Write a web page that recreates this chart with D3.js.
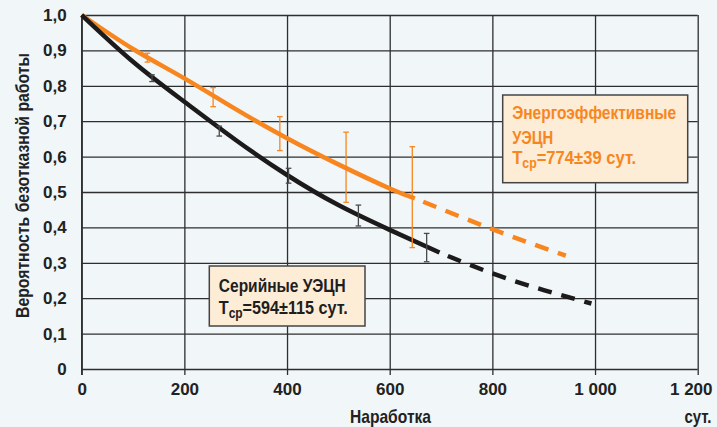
<!DOCTYPE html>
<html>
<head>
<meta charset="utf-8">
<script src="https://cdn.jsdelivr.net/npm/d3@7"></script>
<style>
  body { margin: 0; background: #f1f6f9; }
  svg text { font-family: "Liberation Sans", Arial, sans-serif; font-weight: bold; }
</style>
</head>
<body>
<div class="display"></div>
<script>
// tick labels
const xTicks = [0, 200, 400, 600, 800, 1000, 1200];
const xTickLabels = ['0', '200', '400', '600', '800', '1 000', '1 200'];
const yTicks = [0, 0.1, 0.2, 0.3, 0.4, 0.5, 0.6, 0.7, 0.8, 0.9, 1.0];
const yTickLabels = ['0', '0,1', '0,2', '0,3', '0,4', '0,5', '0,6', '0,7', '0,8', '0,9', '1,0'];

// serial pumps (black)
const serialX = [0, 100, 200, 300, 400, 500, 600, 697];
const serialY = [1.0, 0.868, 0.755, 0.647, 0.548, 0.463, 0.393, 0.329];
const serialDashX = [697, 800, 900, 993];
const serialDashY = [0.329, 0.270, 0.223, 0.185];
const serialErrX = [137, 268, 403, 539, 672];
const serialErrLow = [0.812, 0.658, 0.525, 0.404, 0.303];
const serialErrHigh = [0.831, 0.686, 0.567, 0.463, 0.383];

// energy-efficient pumps (orange)
const effX = [0, 100, 200, 300, 400, 500, 600, 649];
const effY = [1.0, 0.904, 0.821, 0.734, 0.652, 0.578, 0.510, 0.482];
const effDashX = [649, 800, 943];
const effDashY = [0.482, 0.395, 0.32];
const effErrX = [128, 256, 386, 515, 644];
const effErrLow = [0.867, 0.741, 0.617, 0.471, 0.343];
const effErrHigh = [0.892, 0.795, 0.713, 0.669, 0.628];

const width = 717;
const height = 427;
const padLeft = 81.7, padRight = 697.7, padTop = 15, padBottom = 369;
const orange = '#f7861f';
const black = '#1c1a1a';
const gridColor = '#2e2e2e';
const textColor = '#222';

const svg = d3.select('.display')
  .append('svg')
  .attr('width', width)
  .attr('height', height)
  .style('display', 'block');

svg.append('rect')
  .attr('width', width)
  .attr('height', height)
  .attr('fill', '#f1f6f9');

const xScale = d3.scaleLinear().domain([0, 1200]).range([padLeft, padRight]);
const yScale = d3.scaleLinear().domain([0, 1]).range([padBottom, padTop]);

// vertical grid
const xGrid = svg.append('g')
  .attr('transform', `translate(0, ${padTop})`)
  .call(d3.axisBottom(xScale).tickValues(xTicks).tickSize(padBottom - padTop).tickFormat(''));
xGrid.select('.domain').remove();
xGrid.selectAll('line').attr('stroke', gridColor).attr('stroke-width', 1.3);

// y axis with horizontal grid
const yAxis = svg.append('g')
  .attr('transform', `translate(${padLeft}, 0)`)
  .call(d3.axisLeft(yScale)
    .tickValues(yTicks)
    .tickSize(-(padRight - padLeft))
    .tickPadding(15)
    .tickFormat((d, i) => yTickLabels[i]));
yAxis.select('.domain').attr('stroke', gridColor).attr('stroke-width', 1.3)
  .attr('d', `M0,${padTop}V${padBottom + 6}`);
yAxis.selectAll('line').attr('stroke', gridColor).attr('stroke-width', 1.3);
yAxis.selectAll('text')
  .attr('fill', textColor)
  .style('font-size', '17px');

// x axis
const xAxis = svg.append('g')
  .attr('transform', `translate(0, ${padBottom})`)
  .call(d3.axisBottom(xScale)
    .tickValues(xTicks)
    .tickSize(6)
    .tickPadding(8)
    .tickFormat((d, i) => xTickLabels[i]));
xAxis.select('.domain').remove();
xAxis.selectAll('line').attr('stroke', gridColor).attr('stroke-width', 1.3);
xAxis.selectAll('text')
  .attr('fill', textColor)
  .style('font-size', '17px');
// last label is pulled in so it stays inside the frame
xAxis.selectAll('.tick:last-of-type text')
  .attr('text-anchor', 'end')
  .attr('x', 712 - padRight);

// axis titles
svg.append('text')
  .attr('transform', `translate(29, 185.5) rotate(-90)`)
  .attr('text-anchor', 'middle')
  .attr('fill', textColor)
  .style('font-size', '17.5px')
  .attr('textLength', 265)
  .attr('lengthAdjust', 'spacingAndGlyphs')
  .text('Вероятность безотказной работы');

svg.append('text')
  .attr('x', 350)
  .attr('y', 423)
  .attr('fill', textColor)
  .style('font-size', '18.5px')
  .attr('textLength', 81)
  .attr('lengthAdjust', 'spacingAndGlyphs')
  .text('Наработка');

svg.append('text')
  .attr('x', 684.5)
  .attr('y', 423)
  .attr('fill', textColor)
  .style('font-size', '18px')
  .attr('textLength', 27)
  .attr('lengthAdjust', 'spacingAndGlyphs')
  .text('сут.');

const line = d3.line()
  .x(d => xScale(d[0]))
  .y(d => yScale(d[1]))
  .curve(d3.curveNatural);

function drawCurve(xs, ys, color, dashed) {
  svg.append('path')
    .datum(xs.map((x, i) => [x, ys[i]]))
    .attr('d', line)
    .attr('fill', 'none')
    .attr('stroke', color)
    .attr('stroke-width', 4.5)
    .attr('stroke-dasharray', dashed ? '14,10' : null)
    .attr('stroke-dashoffset', dashed ? -9 : null);
}

function drawErrors(xs, lows, highs, color) {
  const g = svg.append('g').attr('stroke', color).attr('stroke-width', 1.3);
  xs.forEach((x, i) => {
    const px = xScale(x);
    g.append('line')
      .attr('x1', px).attr('x2', px)
      .attr('y1', yScale(lows[i])).attr('y2', yScale(highs[i]));
    [lows[i], highs[i]].forEach(v => {
      g.append('line')
        .attr('x1', px - 2.8).attr('x2', px + 2.8)
        .attr('y1', yScale(v)).attr('y2', yScale(v));
    });
  });
}

drawCurve(effX, effY, orange, false);
drawCurve(effDashX, effDashY, orange, true);
drawCurve(serialX, serialY, black, false);
drawCurve(serialDashX, serialDashY, black, true);
drawErrors(effErrX, effErrLow, effErrHigh, orange);
drawErrors(serialErrX, serialErrLow, serialErrHigh, '#4a4a4a');

// legend boxes
function legendBox(x, y, w, h, lines, color) {
  svg.append('rect')
    .attr('x', x).attr('y', y)
    .attr('width', w).attr('height', h)
    .attr('fill', '#fdecd6')
    .attr('stroke', '#444')
    .attr('stroke-width', 1.5);
  lines.forEach(l => {
    const t = svg.append('text')
      .attr('x', x + 9.5)
      .attr('y', l.y)
      .attr('fill', color)
      .style('font-size', '19px')
      .attr('textLength', l.len)
      .attr('lengthAdjust', 'spacingAndGlyphs');
    if (l.sub) {
      t.append('tspan').text('T');
      t.append('tspan').attr('dy', 4).style('font-size', '14px').text('ср');
      t.append('tspan').attr('dy', -4).text(l.text);
    } else {
      t.text(l.text);
    }
  });
}

legendBox(502.7, 95, 185, 87.7, [
  { y: 118.5, text: 'Энергоэффективные', len: 164 },
  { y: 143.5, text: 'УЭЦН', len: 41 },
  { y: 164, text: '=774±39 сут.', sub: true, len: 124 }
], orange);

legendBox(209.3, 266, 155.7, 60, [
  { y: 292, text: 'Серийные УЭЦН', len: 127 },
  { y: 314, text: '=594±115 сут.', sub: true, len: 129 }
], '#1e1e1e');
</script>
</body>
</html>
